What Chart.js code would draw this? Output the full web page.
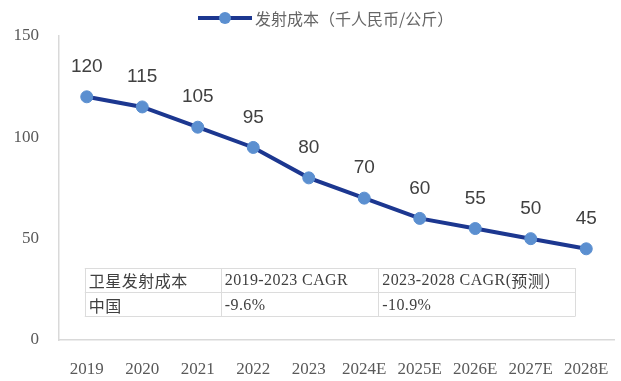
<!DOCTYPE html>
<html><head><meta charset="utf-8">
<script src="https://cdn.jsdelivr.net/npm/chart.js@4/dist/chart.umd.min.js"></script>
<style>html,body{margin:0;padding:0;background:#fff}#wrap{width:621px;height:381px;position:relative}</style>
</head><body><div id="wrap"><canvas id="c" width="621" height="381"></canvas></div>
<script>
const categories = ['2019','2020','2021','2022','2023','2024E','2025E','2026E','2027E','2028E'];
const launchCost = [120,115,105,95,80,70,60,55,50,45];
const seriesName = '发射成本（千人民币/公斤）';
const yTicks = [0,50,100,150];
const tableHeader = ['卫星发射成本','2019-2023 CAGR','2023-2028 CAGR(预测）'];
const tableRow = ['中国','-9.6%','-10.9%'];

const SERIF = '"Liberation Serif","Noto Sans CJK SC",serif';
const LINE_COLOR = '#1c3790';
const POINT_COLOR = '#5b8fd0';

// draw mixed text: CJK runs in CJK font, ASCII runs in serif with spacing
function drawMixed(ctx, text, x, y) {
  const runs = [];
  for (const ch of text) {
    const cjk = ch.charCodeAt(0) > 255;
    if (runs.length && runs[runs.length-1].cjk === cjk) runs[runs.length-1].t += ch;
    else runs.push({ cjk, t: ch });
  }
  let cx = x;
  runs.forEach(r => {
    if (r.cjk) { ctx.font = '16px "Noto Sans CJK SC",sans-serif'; ctx.letterSpacing = '0.5px'; }
    else { ctx.font = '16px "Liberation Serif",serif'; ctx.letterSpacing = '0.4px'; }
    ctx.fillText(r.t, cx, y);
    cx += ctx.measureText(r.t).width;
  });
  ctx.letterSpacing = '0px';
}

const extras = {
  id: 'extras',
  afterDatasetsDraw(chart) {
    const ctx = chart.ctx;
    const meta = chart.getDatasetMeta(0);
    ctx.save();
    // data labels
    ctx.fillStyle = '#404040';
    ctx.font = '19px "Liberation Sans","Noto Sans",sans-serif';
    ctx.textAlign = 'center';
    ctx.textBaseline = 'middle';
    meta.data.forEach((p, i) => {
      ctx.fillText(String(launchCost[i]), p.x, p.y - 30);
    });
    // legend
    ctx.strokeStyle = LINE_COLOR; ctx.lineWidth = 4;
    ctx.beginPath(); ctx.moveTo(198, 18); ctx.lineTo(252, 18); ctx.stroke();
    ctx.fillStyle = POINT_COLOR;
    ctx.beginPath(); ctx.arc(225, 18, 6, 0, Math.PI*2); ctx.fill();
    ctx.fillStyle = '#666666';
    ctx.font = '16px "Noto Sans CJK SC",sans-serif';
    ctx.textAlign = 'left';
    ctx.fillText(seriesName, 255, 19);
    // table
    const xs = chart.scales.x;
    const left = xs.getPixelForValue(0) - 2;
    const c1 = xs.getPixelForValue(2) + 23;
    const c2 = xs.getPixelForValue(5) + 14;
    const right = xs.getPixelForValue(9) - 11;
    const ys = chart.scales.y;
    const top = ys.getPixelForValue(35.5);
    const mid = ys.getPixelForValue(23.5);
    const bot = ys.getPixelForValue(11.6);
    ctx.fillStyle = '#ffffff';
    ctx.fillRect(left, top, right - left, bot - top);
    ctx.strokeStyle = '#dcdcdc'; ctx.lineWidth = 1;
    ctx.beginPath();
    [top, mid, bot].forEach(y => { ctx.moveTo(left, Math.round(y)+0.5); ctx.lineTo(right, Math.round(y)+0.5); });
    [left, c1, c2, right].forEach(x => { ctx.moveTo(Math.round(x)+0.5, top); ctx.lineTo(Math.round(x)+0.5, bot); });
    ctx.stroke();
    ctx.fillStyle = '#404040';
    const cols = [left, c1, c2];
    tableHeader.forEach((t, i) => drawMixed(ctx, t, cols[i] + 4, (top + mid) / 2 + 1));
    tableRow.forEach((t, i) => drawMixed(ctx, t, cols[i] + 4, (mid + bot) / 2 + 1));
    ctx.restore();
  }
};

new Chart(document.getElementById('c'), {
  type: 'line',
  data: {
    labels: categories,
    datasets: [{
      label: seriesName,
      data: launchCost,
      borderColor: LINE_COLOR,
      borderWidth: 4,
      backgroundColor: POINT_COLOR,
      pointBackgroundColor: POINT_COLOR,
      pointBorderColor: POINT_COLOR,
      pointRadius: 6,
      pointBorderWidth: 1,
      tension: 0
    }]
  },
  options: {
    responsive: false,
    animation: false,
    layout: { padding: { top: 36, right: 6, left: 0, bottom: 0 } },
    plugins: { legend: { display: false }, tooltip: { enabled: false } },
    scales: {
      x: {
        offset: true,
        grid: { display: false, drawTicks: false },
        border: { display: true, color: '#d9d9d9', width: 1.5 },
        ticks: { color: '#595959', font: { family: SERIF, size: 17 }, padding: 19, maxRotation: 0, autoSkip: false },
        afterFit(s) { s.height = 41; s.paddingLeft = 0; s.paddingRight = 0; }
      },
      y: {
        min: 0, max: 150,
        afterBuildTicks(s) { s.ticks = yTicks.map(v => ({ value: v })); },
        grid: { display: false, drawTicks: false },
        border: { display: true, color: '#d9d9d9', width: 1.5 },
        ticks: { color: '#595959', font: { family: SERIF, size: 17 }, padding: 20 },
        afterFit(s) { s.width = 59; s.paddingTop = 0; s.paddingBottom = 0; }
      }
    }
  },
  plugins: [extras]
});
</script></body></html>
